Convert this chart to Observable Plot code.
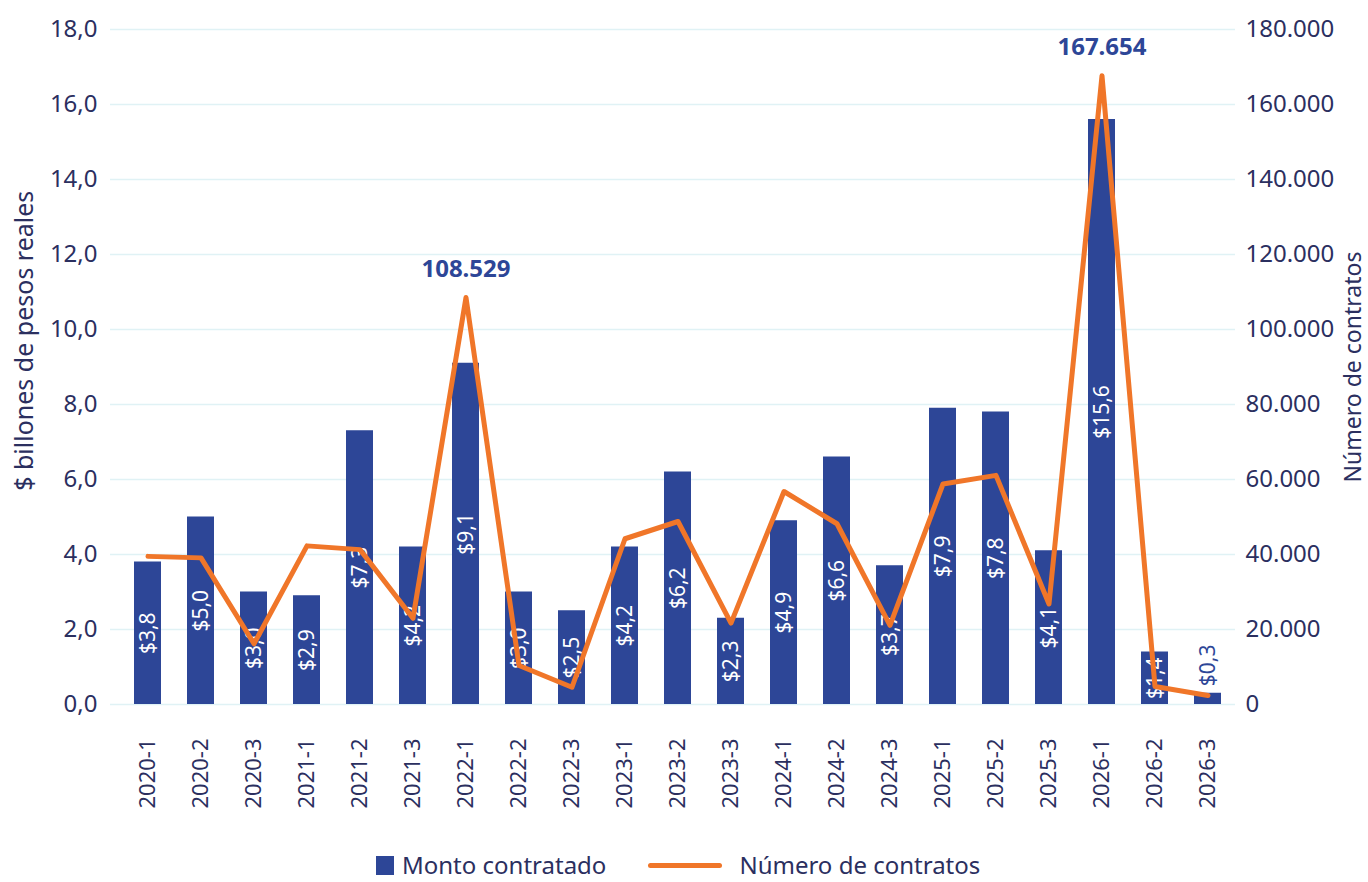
<!DOCTYPE html>
<html>
<head>
<meta charset="utf-8">
<script src="https://cdn.jsdelivr.net/npm/d3@7"></script>
<script src="https://cdn.jsdelivr.net/npm/@observablehq/plot@0.6"></script>
<style>
  html, body { margin: 0; padding: 0; background: #fff; }
  body { width: 1368px; height: 882px; overflow: hidden; font-family: "Noto Sans", sans-serif; }
  #chart svg { display: block; }
  #legend { display: flex; align-items: center; height: 24px; line-height: 24px; margin-top: 3px; padding-left: 376px; color: #2B2F5F; font-size: 24px; }
  .sw-bar { width: 18px; height: 19px; background: #2D4697; margin-right: 8px; }
  .sw-line { width: 74px; height: 5px; border-radius: 3px; background: #F07629; margin-left: 42px; margin-right: 17px; }
</style>
</head>
<body>
<div id="chart"></div>
<div id="legend">
  <div class="sw-bar"></div><span>Monto contratado</span>
  <div class="sw-line"></div><span>Número de contratos</span>
</div>
<script>
const periodos = ["2020-1","2020-2","2020-3","2021-1","2021-2","2021-3","2022-1","2022-2","2022-3","2023-1","2023-2","2023-3","2024-1","2024-2","2024-3","2025-1","2025-2","2025-3","2026-1","2026-2","2026-3"];
const montos = [3.8,5.0,3.0,2.9,7.3,4.2,9.1,3.0,2.5,4.2,6.2,2.3,4.9,6.6,3.7,7.9,7.8,4.1,15.6,1.4,0.3];
const contratos = [39500,39100,16200,42300,41300,23000,108529,10400,4600,44200,48800,21700,56800,48200,21100,58800,61100,26800,167654,4800,2400];
const ticksIzq = [0,2,4,6,8,10,12,14,16,18];
const tituloIzq = "$ billones de pesos reales";
const tituloDer = "Número de contratos";

const NAVY = "#2D4697", ORANGE = "#F07629", TEXT = "#2B2F5F", GRID = "#E0F2F5";
const loc = d3.formatLocale({decimal: ",", thousands: ".", grouping: [3], currency: ["$", ""]});
const fmtMiles = loc.format(",.0f");
const fmt1 = loc.format(".1f");
const escala = 10000; // contratos -> eje izquierdo

const rows = periodos.map((p, i) => ({periodo: p, monto: montos[i], contratos: contratos[i]}));

const chart = Plot.plot({
  width: 1368,
  height: 850,
  marginTop: 29,
  marginBottom: 146,
  marginLeft: 110,
  marginRight: 133,
  style: {fontFamily: "'Noto Sans', sans-serif", background: "white", color: TEXT},
  x: {type: "band", domain: periodos, range: [118, 1237], paddingInner: 0.5, paddingOuter: 0.25, label: null},
  y: {domain: [0, 18], label: null},
  marks: [
    Plot.gridY(ticksIzq, {stroke: GRID, strokeOpacity: 1, strokeWidth: 1.5}),
    Plot.barY(rows, {x: "periodo", y: "monto", fill: NAVY}),
    Plot.text(rows.filter(d => d.monto >= 1), {x: "periodo", y: d => d.monto / 2, text: d => "$" + fmt1(d.monto), rotate: -90, fill: "white", fontSize: 21}),
    Plot.text(rows.filter(d => d.monto < 1), {x: "periodo", y: "monto", text: d => "$" + fmt1(d.monto), rotate: -90, textAnchor: "start", dy: -7, fill: NAVY, fontSize: 21}),
    Plot.line(rows, {x: "periodo", y: d => d.contratos / escala, stroke: ORANGE, strokeWidth: 5, strokeLinejoin: "round", strokeLinecap: "round"}),
    Plot.text(rows.filter(d => d.contratos > 100000), {x: "periodo", y: d => d.contratos / escala, text: d => fmtMiles(d.contratos), dy: -28, fontWeight: "bold", fontSize: 24, fill: NAVY}),
    Plot.axisY({anchor: "left", ticks: ticksIzq, tickFormat: d => fmt1(d), tickSize: 0, tickPadding: 13, fontSize: 24, fill: TEXT, label: null}),
    Plot.axisY({anchor: "right", ticks: ticksIzq, tickFormat: d => fmtMiles(d * escala), tickSize: 0, tickPadding: 10, fontSize: 24, fill: TEXT, label: null}),
    Plot.axisX({tickRotate: -90, tickSize: 0, tickPadding: 34, fontSize: 22, fill: TEXT, label: null}),
    Plot.text([tituloIzq], {frameAnchor: "left", y: [9.7], text: d => d, rotate: -90, textAnchor: "middle", dx: -86, fontSize: 25, fill: TEXT}),
    Plot.text([tituloDer], {frameAnchor: "right", y: [9.0], text: d => d, rotate: -90, textAnchor: "middle", dx: 118, fontSize: 23, fill: TEXT})
  ]
});
document.getElementById("chart").appendChild(chart);
</script>
</body>
</html>
